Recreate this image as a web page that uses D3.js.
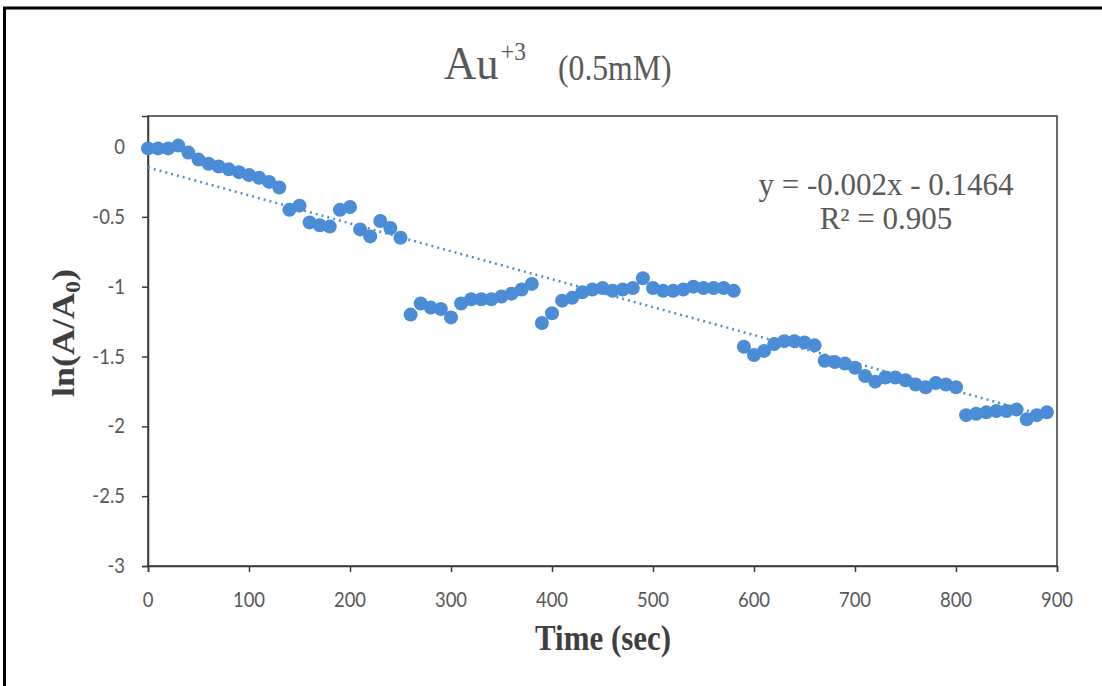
<!DOCTYPE html>
<html><head><meta charset="utf-8">
<script src="https://cdn.jsdelivr.net/npm/d3@7/dist/d3.min.js"></script>
<style>html,body{margin:0;padding:0;background:#fff;}svg{display:block;}</style>
</head><body>
<script>
const times = [0,10,20,30,40,50,60,70,80,90,100,110,120,130,140,150,160,170,180,190,
  200,210,220,230,240,250,260,270,280,290,300,310,320,330,340,350,360,370,380,390,
  400,410,420,430,440,450,460,470,480,490,500,510,520,530,540,550,560,570,580,590,
  600,610,620,630,640,650,660,670,680,690,700,710,720,730,740,750,760,770,780,790,
  800,810,820,830,840,850,860,870,880,890];
const lnValues = [-0.01,-0.01,-0.01,0.01,-0.04,-0.09,-0.12,-0.14,-0.16,-0.18,-0.20,-0.22,-0.25,-0.29,-0.45,-0.42,-0.54,-0.56,-0.57,-0.45,
  -0.43,-0.59,-0.64,-0.53,-0.58,-0.65,-1.20,-1.12,-1.15,-1.16,-1.22,-1.12,-1.09,-1.09,-1.09,-1.07,-1.05,-1.02,-0.98,-1.26,
  -1.19,-1.10,-1.08,-1.04,-1.02,-1.01,-1.03,-1.02,-1.01,-0.94,-1.01,-1.03,-1.03,-1.02,-1.00,-1.01,-1.01,-1.01,-1.03,-1.43,
  -1.49,-1.46,-1.41,-1.39,-1.39,-1.40,-1.42,-1.53,-1.54,-1.55,-1.58,-1.64,-1.68,-1.65,-1.65,-1.67,-1.70,-1.72,-1.69,-1.70,
  -1.72,-1.92,-1.91,-1.90,-1.89,-1.89,-1.88,-1.95,-1.92,-1.90];
const xTicks = [0,100,200,300,400,500,600,700,800,900];
const yTicks = [0,-0.5,-1,-1.5,-2,-2.5,-3];
const trendSlope = -0.002, trendIntercept = -0.1464;
const trendText = "y = -0.002x - 0.1464";
const r2Text = "R² = 0.905";

const W = 1102, H = 686;
const svg = d3.select("body").append("svg").attr("width", W).attr("height", H);

// outer frame
svg.append("rect").attr("x",4.5).attr("y",8).attr("width",1110).attr("height",700)
  .attr("fill","#fff").attr("stroke","#000").attr("stroke-width",3);

const x = d3.scaleLinear().domain([0,900]).range([148,1057]);
const y = d3.scaleLinear().domain([-3,0.222]).range([566,116]);

function txt(px, py, sx, opts){
  const g = svg.append("g").attr("transform", `translate(${px},${py}) scale(${sx},1)`);
  const t = g.append("text").attr("x",0).attr("y",0)
    .attr("font-family", opts.family || "'Liberation Serif', serif")
    .attr("font-size", opts.size).attr("font-weight", opts.weight || "normal")
    .attr("text-anchor", opts.anchor || "start").attr("fill", opts.fill || "#595959");
  if (opts.text !== undefined) t.text(opts.text);
  return {g, t};
}

// plot frame
svg.append("rect").attr("x", x(0)).attr("y", y(0.222)).attr("width", x(900)-x(0)).attr("height", y(-3)-y(0.222))
  .attr("fill","none").attr("stroke","#3a3a3a").attr("stroke-width",1.5);

// axes ticks
const yAxis = d3.axisLeft(y).tickValues(yTicks).tickSize(6).tickFormat("");
svg.append("g").attr("transform",`translate(${x(0)},0)`).call(yAxis)
  .call(g=>g.select(".domain").attr("stroke","#3a3a3a").attr("stroke-width",1.5))
  .call(g=>g.selectAll(".tick line").attr("stroke","#3a3a3a").attr("stroke-width",1.5));
const xAxis = d3.axisBottom(x).tickValues(xTicks).tickSize(6).tickFormat("");
svg.append("g").attr("transform",`translate(0,${y(-3)})`).call(xAxis)
  .call(g=>g.select(".domain").attr("stroke","#3a3a3a").attr("stroke-width",1.5))
  .call(g=>g.selectAll(".tick line").attr("stroke","#3a3a3a").attr("stroke-width",1.5));

// tick labels
yTicks.forEach(v=>{
  txt(125, y(v)+7, 0.88, {text: String(v), size: 21, family:"Lato, 'Liberation Sans', sans-serif", anchor:"end"});
});
xTicks.forEach(v=>{
  txt(x(v), 607, 0.88, {text: String(v), size: 21, family:"Lato, 'Liberation Sans', sans-serif", anchor:"middle"});
});

// trendline
const tMin = d3.min(times), tMax = d3.max(times);
svg.append("line").attr("x1", x(tMin)).attr("y1", y(trendSlope*tMin+trendIntercept))
  .attr("x2", x(tMax)).attr("y2", y(trendSlope*tMax+trendIntercept))
  .attr("stroke","#4d8fd6").attr("stroke-width",2.5).attr("stroke-dasharray","2 4");

// points
svg.append("g").selectAll("circle").data(times.map((t,i)=>[t,lnValues[i]])).join("circle")
  .attr("cx", d=>x(d[0])).attr("cy", d=>y(d[1])).attr("r", 7).attr("fill", "#4a8cd5");

// title
txt(444, 79, 0.97, {text:"Au", size:46});
txt(501, 60, 0.9, {text:"+3", size:26});
txt(558, 80, 0.88, {text:"(0.5mM)", size:36});

// equation
txt(886, 195, 1, {text: trendText, size: 31, anchor:"middle"});
txt(886, 229, 1, {text: r2Text, size: 31, anchor:"middle"});

// axis titles
txt(603, 650, 0.86, {text:"Time (sec)", size:36, weight:"bold", anchor:"middle", fill:"#3f3f3f"});
{
  const g = svg.append("g").attr("transform","translate(74,333) scale(0.85,1) rotate(-90)");
  const t = g.append("text").attr("text-anchor","middle").attr("font-family","'Liberation Serif', serif")
    .attr("font-size",36).attr("font-weight","bold").attr("fill","#3f3f3f");
  t.append("tspan").text("ln(A/A");
  t.append("tspan").attr("font-size",24).attr("dy",7).text("0");
  t.append("tspan").attr("dy",-7).text(")");
}
</script>
</body></html>
